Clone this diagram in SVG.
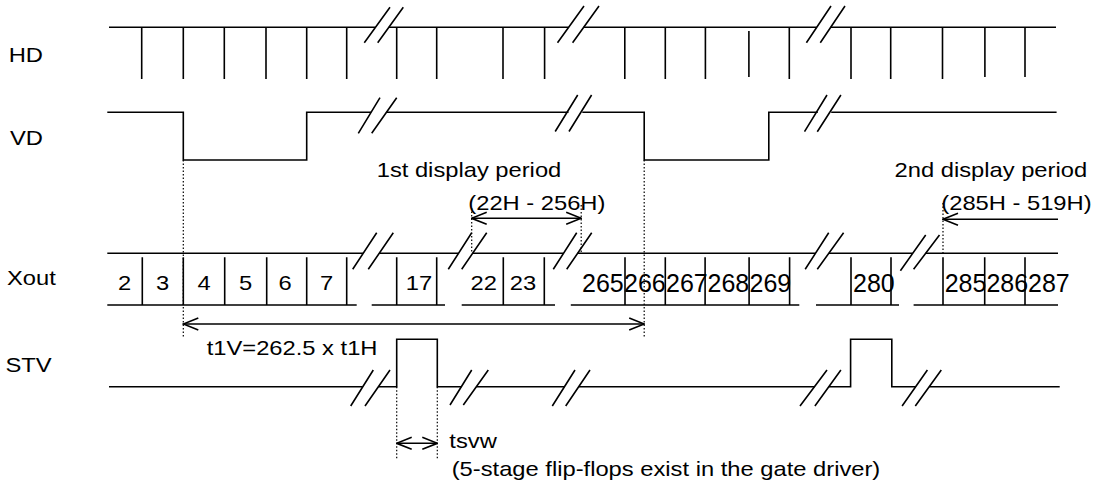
<svg xmlns="http://www.w3.org/2000/svg" width="1093" height="484" viewBox="0 0 1093 484">
<style>
.s{stroke:#000;stroke-width:1.6;fill:none}
.d{stroke:#000;stroke-width:1.2;stroke-dasharray:1.5 2;fill:none}
text{font-family:"Liberation Sans",Arial,sans-serif;font-size:21px;fill:#000}
.big{font-size:25px}
.c{text-anchor:middle}
</style>
<defs>
<marker id="ah" viewBox="-17 -8 18 16" markerWidth="18" markerHeight="16" refX="0" refY="0" orient="auto-start-reverse" markerUnits="userSpaceOnUse">
<path d="M-15,-6 L0,0 L-15,6" fill="none" stroke="#000" stroke-width="1.6"/>
</marker>
</defs>
<rect width="1093" height="484" fill="#fff"/>

<g id="labels">
<text x="8.7" y="61.7" textLength="34.3" lengthAdjust="spacingAndGlyphs">HD</text>
<text x="10" y="145" textLength="33" lengthAdjust="spacingAndGlyphs">VD</text>
<text x="7" y="285" textLength="48.8" lengthAdjust="spacingAndGlyphs">Xout</text>
<text x="5.5" y="371.7" textLength="46.2" lengthAdjust="spacingAndGlyphs">STV</text>
</g>

<g id="HD">
<path class="s" d="M109,27.3 H375.5 M388.8,27.3 H568.6 M583.7,27.3 H816.7 M830.7,27.3 H1056"/>
<path class="s" d="M141.7,27.3V79 M183.3,27.3V79 M224.3,27.3V79 M266,27.3V79 M306.7,27.3V79 M346.7,27.3V79 M396.7,27.3V79 M436.7,27.3V79 M503,27.3V79 M544.6,27.3V79 M624.8,27.3V79 M665.3,27.3V79 M705.4,27.3V79 M748.9,31V77 M789.3,27.3V79 M851,27.3V79 M890.7,27.3V79 M942.5,27.3V79 M984.9,27.3V77 M1025,27.3V77"/>
<path class="s" d="M364.3,42.7 L390,7.3 M377.7,42.7 L403.3,7.3 M557.5,42.7 L584,6 M572.6,42.7 L599,6 M806.4,42.7 L831,6 M820.3,42.7 L845,6"/>
</g>

<g id="VD">
<path class="s" d="M107.3,112.3 H183.3 V160 H306.7 V112.3 H371.1 M386.5,112.3 H568.5 M582.3,112.3 H644.2 V160 H768.8 V112.3 H817.8 M831.2,112.3 H1056.6"/>
<path class="s" d="M358.3,133.3 L380,97.7 M371.7,133.3 L396.7,97.7 M555.2,131.5 L577.7,95 M569,131.5 L591.6,95 M804.5,131.7 L827,95 M817.3,131.7 L840.9,95"/>
</g>

<g id="Xout">
<path class="s" d="M107.3,253.3 H363.2 M379.2,253.3 H458.5 M472.6,253.3 H563.5 M577.6,253.3 H815.5 M828.8,253.3 H912.7 M925.7,253.3 H1058"/>
<path class="s" d="M107.3,305 H356.7 M371.7,305 H445 M461.7,305 H555 M570.8,305 H799.3 M816,305 H899 M913.6,305 H1058"/>
<path class="s" d="M142.3,257.3V305 M183.3,257.3V305 M224.7,257.3V305 M266.7,257.3V305 M306.7,257.3V305 M346.7,257.3V305 M396.7,257.3V305 M436.7,257.3V305 M503.3,257.3V305 M544.3,257.3V305 M625,257.3V305 M665.3,257.3V305 M705.1,257.3V305 M749.1,257.3V305 M789.6,257.3V305 M851,257.3V305 M891,257.3V305 M943,257.3V305 M984.7,257.3V305 M1025,257.3V305"/>
<path class="s" d="M352.7,269.3 L376.7,232.7 M368.3,269.3 L393.3,232.7 M448.3,269.3 L471.7,232.7 M461.7,269.3 L486.7,232.7 M553.3,269.3 L576.7,232.7 M566.7,269.3 L591.7,232.7 M805.2,269.3 L828.7,232.7 M817.3,269.3 L843.6,232.7 M900.4,270.7 L925.7,235 M913.6,269.3 L939.5,235"/>
<text class="c" x="124.5" y="290" textLength="13.2" lengthAdjust="spacingAndGlyphs">2</text>
<text class="c" x="162.5" y="290" textLength="13.2" lengthAdjust="spacingAndGlyphs">3</text>
<text class="c" x="204" y="290" textLength="13.2" lengthAdjust="spacingAndGlyphs">4</text>
<text class="c" x="245.5" y="290" textLength="13.2" lengthAdjust="spacingAndGlyphs">5</text>
<text class="c" x="285" y="290" textLength="13.2" lengthAdjust="spacingAndGlyphs">6</text>
<text class="c" x="326.7" y="290" textLength="13.2" lengthAdjust="spacingAndGlyphs">7</text>
<text class="c" x="419" y="290" textLength="26.4" lengthAdjust="spacingAndGlyphs">17</text>
<text class="c" x="483.7" y="290" textLength="26.4" lengthAdjust="spacingAndGlyphs">22</text>
<text class="c" x="523" y="290" textLength="26.4" lengthAdjust="spacingAndGlyphs">23</text>
<text class="big" x="582" y="292">265</text>
<text class="big" x="624" y="292">266</text>
<text class="big" x="666" y="292">267</text>
<text class="big" x="707.5" y="292">268</text>
<text class="big" x="749.5" y="292">269</text>
<text class="big" x="853" y="292">280</text>
<text class="big" x="944.7" y="292">285</text>
<text class="big" x="986.4" y="292">286</text>
<text class="big" x="1028" y="292">287</text>
</g>

<g id="STV">
<path class="s" d="M109,386.7 H362.8 M378.4,386.7 H396.7 V339.3 H437.3 V386.7 H461.3 M476.4,386.7 H564.5 M578.7,386.7 H814.5 M828.8,386.7 H850.6 V339.3 H891.8 V386.7 H915.7 M929.2,386.7 H1059.7"/>
<path class="s" d="M350.7,406 L373.3,370 M365,406 L390,370 M450,405 L471.7,370 M463.3,405 L488.3,370 M552.3,406 L575,370 M565.7,406 L590,370 M800,406 L827,370 M814.9,406 L840.9,370 M902.1,406 L927.4,370 M915.3,406 L941.3,370"/>
</g>

<g id="connectors">
<path class="d" d="M183.3,160V337 M644.2,160V337 M471.7,208V253.3 M581.2,205V253.3 M943,203V253.3 M396.7,386.7V458.3 M437.3,386.7V458.3"/>
<line class="s" x1="471.7" y1="218.3" x2="581.2" y2="218.3" marker-start="url(#ah)" marker-end="url(#ah)"/>
<line class="s" x1="943" y1="219.3" x2="1058" y2="219.3" marker-start="url(#ah)"/>
<line class="s" x1="183.3" y1="324" x2="644.2" y2="324" marker-start="url(#ah)" marker-end="url(#ah)"/>
<line class="s" x1="396.7" y1="443.3" x2="437.3" y2="443.3" marker-start="url(#ah)" marker-end="url(#ah)"/>
</g>

<g id="annotations">
<text x="376.7" y="176.7" textLength="184.6" lengthAdjust="spacingAndGlyphs">1st display period</text>
<text x="468.3" y="210" textLength="137.1" lengthAdjust="spacingAndGlyphs">(22H - 256H)</text>
<text x="894.5" y="176.7" textLength="192.6" lengthAdjust="spacingAndGlyphs">2nd display period</text>
<text x="941.3" y="210" textLength="150.3" lengthAdjust="spacingAndGlyphs">(285H - 519H)</text>
<text x="206.7" y="355" textLength="170.8" lengthAdjust="spacingAndGlyphs">t1V=262.5 x t1H</text>
<text x="449.3" y="448.3" textLength="47.5" lengthAdjust="spacingAndGlyphs">tsvw</text>
<text x="451.7" y="476" textLength="428.6" lengthAdjust="spacingAndGlyphs">(5-stage flip-flops exist in the gate driver)</text>
</g>
</svg>
